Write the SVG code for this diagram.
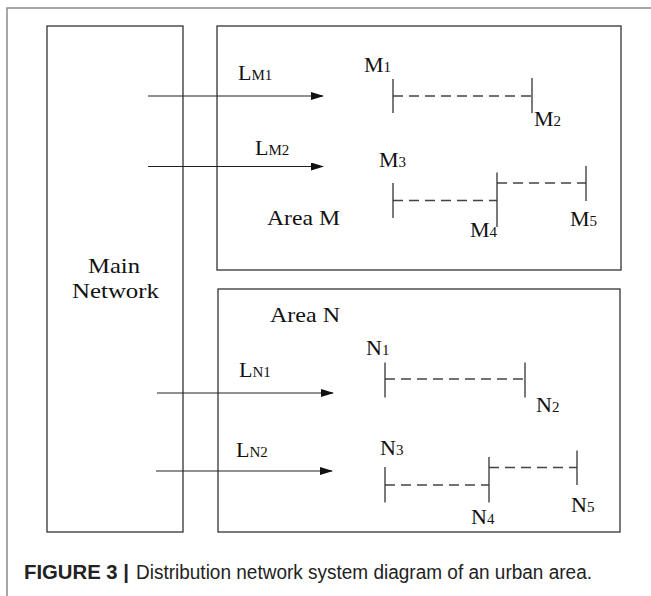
<svg xmlns="http://www.w3.org/2000/svg" width="651" height="596" viewBox="0 0 651 596">
<defs>
<style>
.frame{fill:none;stroke:#8a8a8a;stroke-width:1.5}
.box{fill:none;stroke:#333;stroke-width:1.3}
.bar{stroke:#333;stroke-width:1.3}
.dash{stroke:#444;stroke-width:1.3;stroke-dasharray:10 6;fill:none}
.arrow{stroke:#222;stroke-width:1.2;marker-end:url(#ah)}
.t{font-family:"Liberation Serif","Times New Roman",serif;font-size:22px;fill:#111}
.s{font-size:15px}
.cap{font-family:"Liberation Sans",Arial,sans-serif;font-size:19.5px;fill:#222}
</style>
<marker id="ah" markerWidth="13" markerHeight="8" refX="12" refY="4" orient="auto" markerUnits="userSpaceOnUse">
<path d="M0,0 L13,4 L0,8 Z" fill="#111"/>
</marker>
</defs>
<rect width="651" height="596" fill="#fff"/>
<path class="frame" d="M7,596 V8 H651"/>

<g id="main-network">
<rect class="box" x="47" y="26" width="136" height="506"/>
<text class="t" x="88" y="273" textLength="52" lengthAdjust="spacingAndGlyphs">Main</text>
<text class="t" x="72" y="298" textLength="87" lengthAdjust="spacingAndGlyphs">Network</text>
</g>

<g id="area-m">
<rect class="box" x="217" y="26" width="404" height="244"/>
<text class="t" x="267" y="225" textLength="73" lengthAdjust="spacingAndGlyphs">Area M</text>
</g>

<g id="area-n">
<rect class="box" x="218" y="289" width="402" height="243"/>
<text class="t" x="270" y="322" textLength="70" lengthAdjust="spacingAndGlyphs">Area N</text>
</g>

<g id="connectors">
<line class="arrow" x1="148" y1="96" x2="323" y2="96"/>
<line class="arrow" x1="148" y1="166.5" x2="323" y2="166.5"/>
<line class="arrow" x1="157" y1="393" x2="333" y2="393"/>
<line class="arrow" x1="156" y1="471" x2="332" y2="471"/>
<text class="t" x="238" y="80">L<tspan class="s">M1</tspan></text>
<text class="t" x="255" y="155">L<tspan class="s">M2</tspan></text>
<text class="t" x="239" y="377">L<tspan class="s">N1</tspan></text>
<text class="t" x="236" y="457">L<tspan class="s">N2</tspan></text>
<line class="dash" x1="393" y1="96" x2="532" y2="96"/>
<line class="dash" x1="393" y1="200.5" x2="497" y2="200.5"/>
<line class="dash" x1="497" y1="183" x2="586" y2="183"/>
<line class="dash" x1="385" y1="379" x2="525" y2="379"/>
<line class="dash" x1="385" y1="485" x2="489" y2="485"/>
<line class="dash" x1="489" y1="467.5" x2="577" y2="467.5"/>
</g>

<g id="node-m1"><line class="bar" x1="393" y1="79" x2="393" y2="113"/><text class="t" x="364" y="72">M<tspan class="s">1</tspan></text></g>
<g id="node-m2"><line class="bar" x1="532" y1="78" x2="532" y2="113"/><text class="t" x="534" y="126">M<tspan class="s">2</tspan></text></g>
<g id="node-m3"><line class="bar" x1="393" y1="183" x2="393" y2="218"/><text class="t" x="379" y="167">M<tspan class="s">3</tspan></text></g>
<g id="node-m4"><line class="bar" x1="497" y1="172.5" x2="497" y2="227"/><text class="t" x="470" y="237">M<tspan class="s">4</tspan></text></g>
<g id="node-m5"><line class="bar" x1="586" y1="166" x2="586" y2="201"/><text class="t" x="570" y="226">M<tspan class="s">5</tspan></text></g>

<g id="node-n1"><line class="bar" x1="385" y1="362.5" x2="385" y2="397.5"/><text class="t" x="366" y="355">N<tspan class="s">1</tspan></text></g>
<g id="node-n2"><line class="bar" x1="525" y1="362.5" x2="525" y2="397.5"/><text class="t" x="536" y="412">N<tspan class="s">2</tspan></text></g>
<g id="node-n3"><line class="bar" x1="385" y1="467" x2="385" y2="502.5"/><text class="t" x="380" y="455">N<tspan class="s">3</tspan></text></g>
<g id="node-n4"><line class="bar" x1="489" y1="457" x2="489" y2="502.5"/><text class="t" x="471" y="524">N<tspan class="s">4</tspan></text></g>
<g id="node-n5"><line class="bar" x1="577" y1="450.5" x2="577" y2="485"/><text class="t" x="571" y="512">N<tspan class="s">5</tspan></text></g>

<text class="cap" y="579"><tspan x="24" font-weight="bold" textLength="105" lengthAdjust="spacingAndGlyphs">FIGURE 3 |</tspan><tspan x="136" textLength="456" lengthAdjust="spacingAndGlyphs">Distribution network system diagram of an urban area.</tspan></text>
</svg>
